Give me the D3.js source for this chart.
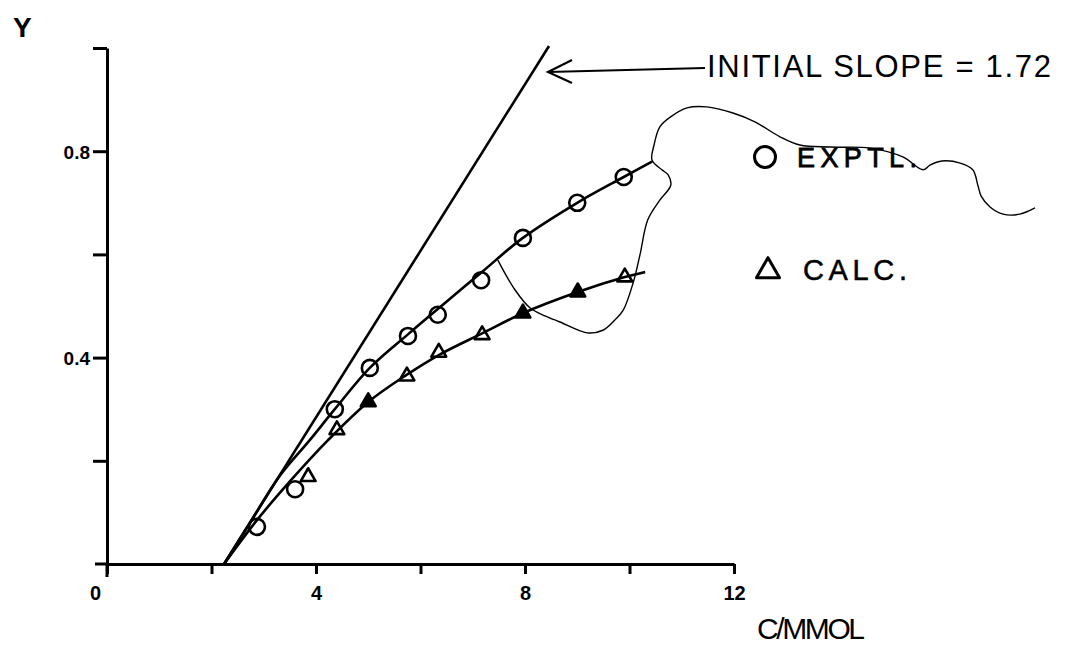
<!DOCTYPE html>
<html>
<head>
<meta charset="utf-8">
<script src="https://cdn.jsdelivr.net/npm/d3@7"></script>
<style>
  html, body { margin: 0; padding: 0; background: #fff; }
  svg { display: block; }
</style>
</head>
<body>
<svg id="chart" width="1080" height="653"></svg>
<script>
// Experimental points (open circles)
const exptC = [2.87, 3.60, 4.36, 5.03, 5.76, 6.33, 7.16, 7.96, 9.00, 9.89];
const exptY = [0.072, 0.145, 0.300, 0.380, 0.442, 0.483, 0.550, 0.632, 0.700, 0.750];

// Calculated points (triangles; some drawn solid)
const calcC = [3.85, 4.40, 5.00, 5.74, 6.35, 7.18, 7.96, 9.01, 9.91];
const calcY = [0.169, 0.260, 0.314, 0.364, 0.410, 0.444, 0.486, 0.527, 0.556];
const calcSolid = [false, false, true, false, false, false, true, true, false];

// Smooth curve drawn through the experimental values
const exptCurveC = [2.24, 2.75, 3.30, 3.88, 4.36, 5.03, 5.76, 6.40, 7.20, 7.96, 9.00, 9.89, 10.43];
const exptCurveY = [0, 0.082, 0.170, 0.240, 0.300, 0.380, 0.445, 0.500, 0.568, 0.632, 0.700, 0.750, 0.780];

// Smooth curve drawn through the calculated values
const calcCurveC = [2.24, 2.87, 3.50, 4.23, 5.00, 5.74, 6.35, 7.18, 7.96, 9.01, 9.91, 10.30];
const calcCurveY = [0, 0.085, 0.160, 0.240, 0.314, 0.367, 0.405, 0.447, 0.486, 0.527, 0.556, 0.566];

// Initial-slope line
const slopeC = [2.24, 8.46];
const slopeY = [0, 1.004];

// Freehand outline pencilled over the plot
const outlineC = [7.48, 7.81, 8.10, 8.38, 8.67, 9.19, 9.49, 9.72, 9.88, 10.07, 10.20, 10.35, 10.58, 10.79,
                  10.74, 10.62, 10.43, 10.47, 10.58, 10.78, 11.10, 11.48, 11.98, 12.40, 12.88, 13.26, 13.84,
                  14.60, 15.23, 15.62, 15.75, 15.98, 16.33, 16.57, 16.67, 16.73, 16.90, 17.15, 17.47, 17.76];
const outlineY = [0.589, 0.531, 0.496, 0.481, 0.469, 0.448, 0.453, 0.473, 0.492, 0.545, 0.599, 0.667, 0.705, 0.734,
                  0.754, 0.764, 0.783, 0.812, 0.847, 0.866, 0.884, 0.886, 0.874, 0.857, 0.828, 0.812, 0.808,
                  0.806, 0.789, 0.764, 0.773, 0.781, 0.777, 0.764, 0.733, 0.713, 0.692, 0.678, 0.678, 0.690];

// Axis ticks
const xTicks = [0, 2, 4, 6, 8, 10, 12];
const xTickLabels = ["0", "", "4", "", "8", "", "12"];
const yTicks = [0.2, 0.4, 0.6, 0.8, 1.0];
const yTickLabels = ["", "0.4", "", "0.8", ""];

const svg = d3.select("#chart");
const INK = "#000";

const x = d3.scaleLinear().domain([0, 12]).range([107, 734]);
const y = d3.scaleLinear().domain([0, 1]).range([564, 48]);

svg.append("rect").attr("width", 1080).attr("height", 653).attr("fill", "#fff");

// ---- axes ----
const xAxis = d3.axisBottom(x)
  .tickValues(xTicks)
  .tickSize(10)
  .tickSizeOuter(0)
  .tickFormat((d, i) => xTickLabels[i]);

const gx = svg.append("g").attr("transform", `translate(0,${y(0)})`).call(xAxis);
gx.select(".domain").attr("stroke", INK).attr("stroke-width", 3);
gx.selectAll(".tick line").attr("stroke", INK).attr("stroke-width", 3);
gx.selectAll(".tick text")
  .attr("fill", INK)
  .attr("dy", null)
  .attr("y", 36)
  .attr("x", d => d === 0 ? -12 : 0)
  .style("font-family", "'Liberation Sans', Arial, sans-serif")
  .style("font-weight", "bold")
  .style("font-size", "20px");

const yAxis = d3.axisLeft(y)
  .tickValues(yTicks)
  .tickSize(14)
  .tickSizeOuter(0)
  .tickFormat((d, i) => yTickLabels[i]);

const gy = svg.append("g").attr("transform", `translate(${x(0)},0)`).call(yAxis);
gy.select(".domain").attr("stroke", INK).attr("stroke-width", 3);
gy.selectAll(".tick line").attr("stroke", INK).attr("stroke-width", 3);
gy.selectAll(".tick text")
  .attr("fill", INK)
  .attr("x", -17)
  .attr("dy", "0.36em")
  .style("font-family", "'Liberation Sans', Arial, sans-serif")
  .style("font-weight", "bold")
  .style("font-size", "19px");

// origin cross: the axes run a little past each other
svg.append("line")
  .attr("x1", x(0) - 12).attr("x2", x(0))
  .attr("y1", y(0)).attr("y2", y(0))
  .attr("stroke", INK).attr("stroke-width", 3);
svg.append("line")
  .attr("x1", x(0)).attr("x2", x(0))
  .attr("y1", y(0)).attr("y2", y(0) + 13)
  .attr("stroke", INK).attr("stroke-width", 3);

// ---- lines ----
const pts = (cs, ys) => cs.map((c, i) => [c, ys[i]]);

const straight = d3.line().x(d => x(d[0])).y(d => y(d[1]));
const smooth = d3.line().x(d => x(d[0])).y(d => y(d[1])).curve(d3.curveCatmullRom.alpha(0.5));

svg.append("path")
  .attr("d", straight(pts(slopeC, slopeY)))
  .attr("fill", "none").attr("stroke", INK).attr("stroke-width", 2.6);

svg.append("path")
  .attr("d", smooth(pts(exptCurveC, exptCurveY)))
  .attr("fill", "none").attr("stroke", INK).attr("stroke-width", 2.6);

svg.append("path")
  .attr("d", smooth(pts(calcCurveC, calcCurveY)))
  .attr("fill", "none").attr("stroke", INK).attr("stroke-width", 2.6);

svg.append("path")
  .attr("d", smooth(pts(outlineC, outlineY)))
  .attr("fill", "none").attr("stroke", INK).attr("stroke-width", 1.4)
  .attr("stroke-linejoin", "round");

// ---- markers ----
svg.append("g").selectAll("circle")
  .data(pts(exptC, exptY))
  .join("circle")
  .attr("cx", d => x(d[0]))
  .attr("cy", d => y(d[1]))
  .attr("r", 8)
  .attr("fill", "none")
  .attr("stroke", INK)
  .attr("stroke-width", 2.6);

const tri = d3.symbol().type(d3.symbolTriangle).size(95);
svg.append("g").selectAll("path")
  .data(calcC.map((c, i) => ({ c, v: calcY[i], solid: calcSolid[i] })))
  .join("path")
  .attr("d", tri)
  .attr("transform", d => `translate(${x(d.c)},${y(d.v)})`)
  .attr("fill", d => d.solid ? INK : "none")
  .attr("stroke", INK)
  .attr("stroke-width", 2.6)
  .attr("stroke-linejoin", "round");

// ---- annotations ----
const font = "'Liberation Sans', Arial, sans-serif";

svg.append("text")
  .attr("x", 13).attr("y", 37)
  .style("font-family", font).style("font-weight", "bold").style("font-size", "28px")
  .text("Y");

// arrow pointing at the initial-slope line
svg.append("line")
  .attr("x1", 548).attr("y1", 72).attr("x2", 705).attr("y2", 68)
  .attr("stroke", INK).attr("stroke-width", 2.2);
svg.append("path")
  .attr("d", "M572,60 L548,72 L572,83")
  .attr("fill", "none").attr("stroke", INK).attr("stroke-width", 2.2)
  .attr("stroke-linejoin", "miter");

svg.append("text")
  .attr("x", 707).attr("y", 77)
  .attr("textLength", 344).attr("lengthAdjust", "spacing")
  .style("font-family", font).style("font-size", "31px")
  .text("INITIAL SLOPE = 1.72");

// legend
svg.append("circle")
  .attr("cx", 765).attr("cy", 157).attr("r", 10.5)
  .attr("fill", "none").attr("stroke", INK).attr("stroke-width", 3);
svg.append("text")
  .attr("x", 797).attr("y", 167)
  .attr("textLength", 120).attr("lengthAdjust", "spacing")
  .style("font-family", font).style("font-size", "27px")
  .attr("stroke", INK).attr("stroke-width", 0.8)
  .text("EXPTL.");

svg.append("path")
  .attr("d", d3.symbol().type(d3.symbolTriangle).size(230)())
  .attr("transform", "translate(768,271)")
  .attr("fill", "none").attr("stroke", INK).attr("stroke-width", 3)
  .attr("stroke-linejoin", "round");
svg.append("text")
  .attr("x", 803).attr("y", 280)
  .attr("textLength", 104).attr("lengthAdjust", "spacing")
  .style("font-family", font).style("font-size", "29px")
  .attr("stroke", INK).attr("stroke-width", 0.5)
  .text("CALC.");

svg.append("text")
  .attr("x", 757).attr("y", 639)
  .attr("textLength", 108).attr("lengthAdjust", "spacing")
  .style("font-family", font).style("font-size", "30px")
  .text("C/MMOL");
</script>
</body>
</html>
